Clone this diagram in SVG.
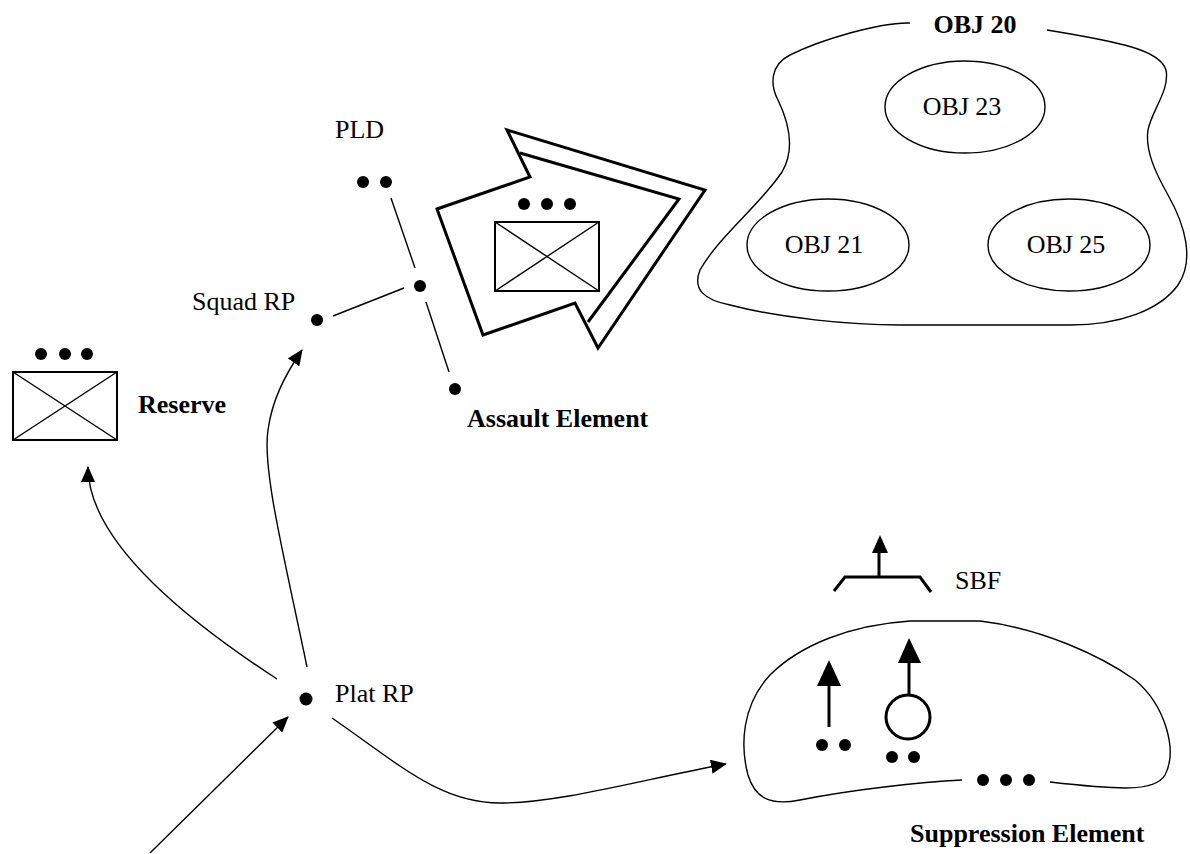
<svg xmlns="http://www.w3.org/2000/svg" width="1190" height="854" viewBox="0 0 1190 854">
<style>
.t{font-family:"Liberation Serif","Times New Roman",serif;font-size:26px;fill:#000}
.b{font-weight:bold}
.thin{fill:none;stroke:#000;stroke-width:1.4}
.med{fill:none;stroke:#000;stroke-width:2}
.thick{fill:none;stroke:#000;stroke-width:3}
.dot{fill:#000}
</style>
<defs>
<marker id="ah" markerUnits="userSpaceOnUse" markerWidth="16" markerHeight="14" viewBox="0 0 16 14" refX="15" refY="7" orient="auto">
<path d="M0,0 L16,7 L0,14 Z" fill="#000"/>
</marker>
</defs>
<rect width="1190" height="854" fill="#fff"/>

<g id="obj20">
<path class="thin" d="M910,23 C880,22 820,40 790,55 C770,65 770,85 778,100 C790,125 795,150 782,172 C760,205 720,235 700,270 C692,290 705,300 730,305 C780,318 850,325 900,325 L1070,325 C1120,325 1160,310 1178,285 C1195,260 1185,225 1168,195 C1155,172 1145,150 1148,130 C1152,110 1170,90 1166,70 C1160,50 1120,42 1047,30"/>
<text class="t b" x="975" y="33" text-anchor="middle">OBJ 20</text>
</g>
<g id="obj23">
<ellipse class="thin" cx="965" cy="107" rx="80" ry="46"/>
<text class="t" x="962" y="115" text-anchor="middle">OBJ 23</text>
</g>
<g id="obj21">
<ellipse class="thin" cx="828" cy="245" rx="81" ry="46"/>
<text class="t" x="824" y="253" text-anchor="middle">OBJ 21</text>
</g>
<g id="obj25">
<ellipse class="thin" cx="1069" cy="245" rx="81" ry="46"/>
<text class="t" x="1066" y="253" text-anchor="middle">OBJ 25</text>
</g>

<g id="assault">
<polygon class="thick" points="437,209 530,177 507,130 705,190 598,348 575,303 483,335"/>
<polyline class="thick" points="520,153 679,199 588,322"/>
<circle class="dot" cx="524" cy="204" r="6"/>
<circle class="dot" cx="547" cy="204" r="6"/>
<circle class="dot" cx="570" cy="204" r="6"/>
<rect class="med" x="495" y="222" width="104" height="69"/>
<line class="thin" x1="495" y1="222" x2="599" y2="291"/>
<line class="thin" x1="599" y1="222" x2="495" y2="291"/>
<text class="t b" x="467" y="427">Assault Element</text>
</g>

<g id="pld">
<text class="t" x="335" y="138">PLD</text>
<circle class="dot" cx="363" cy="182" r="6"/>
<circle class="dot" cx="386" cy="182" r="6"/>
<circle class="dot" cx="420" cy="286" r="6"/>
<circle class="dot" cx="455" cy="389" r="6"/>
</g>

<g id="squad-rp">
<circle class="dot" cx="317" cy="320" r="6"/>
<text class="t" x="192" y="310">Squad RP</text>
</g>

<g id="reserve">
<circle class="dot" cx="41" cy="354" r="6"/>
<circle class="dot" cx="65" cy="354" r="6"/>
<circle class="dot" cx="87" cy="354" r="6"/>
<rect class="med" x="13" y="372" width="104" height="68"/>
<line class="thin" x1="13" y1="372" x2="117" y2="440"/>
<line class="thin" x1="117" y1="372" x2="13" y2="440"/>
<text class="t b" x="138" y="413">Reserve</text>
</g>

<g id="plat-rp">
<circle class="dot" cx="306" cy="699" r="6.5"/>
<text class="t" x="335" y="702">Plat RP</text>
</g>

<g id="sbf">
<polyline class="thick" points="834,591 845,577 920,577 931,592"/>
<line class="thick" x1="879" y1="577" x2="879" y2="550"/>
<polygon class="dot" points="880,535 872,553 888,553"/>
<text class="t" x="955" y="589">SBF</text>
</g>

<g id="suppression">
<path class="thin" d="M962,780 C920,782 850,790 800,800 C770,806 755,798 748,775 C740,745 742,705 770,675 C800,645 850,625 910,621 L980,621 C1040,628 1100,655 1135,680 C1165,705 1178,750 1165,775 C1155,792 1120,790 1050,782"/>
<line class="thick" x1="829" y1="727" x2="829" y2="683"/>
<polygon class="dot" points="829,660 817,686 841,686"/>
<circle class="dot" cx="822" cy="745" r="6"/>
<circle class="dot" cx="845" cy="745" r="6"/>
<circle class="thick" cx="908" cy="717" r="22"/>
<line class="thick" x1="909" y1="695" x2="909" y2="660"/>
<polygon class="dot" points="909,638 898,663 921,663"/>
<circle class="dot" cx="892" cy="757" r="6"/>
<circle class="dot" cx="914" cy="757" r="6"/>
<circle class="dot" cx="983" cy="780" r="6"/>
<circle class="dot" cx="1006" cy="780" r="6"/>
<circle class="dot" cx="1029" cy="780" r="6"/>
<text class="t b" x="910" y="842">Suppression Element</text>
</g>

<g id="connectors">
<line class="thin" x1="391" y1="198" x2="415" y2="268"/>
<line class="thin" x1="426" y1="302" x2="449" y2="372"/>
<line class="thin" x1="333" y1="316" x2="404" y2="288"/>
<path class="thin" marker-end="url(#ah)" d="M307,667 C285,560 262,470 268,430 C272,400 285,375 302,350"/>
<path class="thin" marker-end="url(#ah)" d="M277,679 Q88,556 88,467"/>
<path class="thin" marker-end="url(#ah)" d="M332,718 C400,765 440,803 500,803 C560,803 640,780 726,764"/>
<line class="thin" marker-end="url(#ah)" x1="150" y1="853" x2="288" y2="717"/>
</g>
</svg>
